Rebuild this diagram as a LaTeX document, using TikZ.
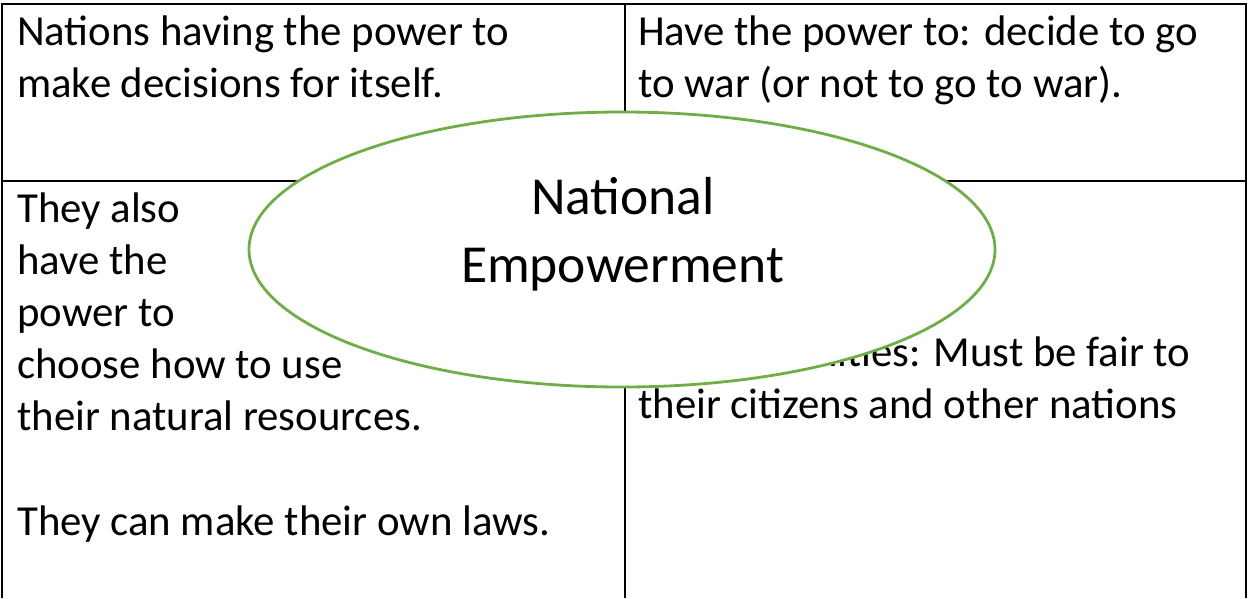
\documentclass[tikz,border=0pt]{standalone}
\usepackage{fontspec}
\setmainfont{Carlito}
\usetikzlibrary{shapes.geometric}
\definecolor{ellgreen}{HTML}{70AD47}
\begin{document}
\begin{tikzpicture}[x=1pt,y=-1pt,
  cell/.style={anchor=base west,inner sep=0pt,font=\fontsize{42.8}{52}\selectfont},
  title/.style={anchor=base,inner sep=0pt,font=\fontsize{53.5}{68}\selectfont},
  grid/.style={line width=2.2pt,black},
  oval/.style={draw=ellgreen,line width=2.8pt,fill=white,ellipse,inner sep=0pt,minimum width=746pt,minimum height=275pt}]
\useasboundingbox (0,0) rectangle (1249,598);
% frame coordinates
\coordinate (tl) at (2,4);
\coordinate (tr) at (1246,4);
\coordinate (bl) at (2,598);
\coordinate (br) at (1246,598);
\coordinate (mt) at (625,4);
\coordinate (mb) at (625,598);
\coordinate (hl) at (2,181);
\coordinate (hr) at (1246,181);
\draw[grid] (bl) -- (tl) -- (tr) -- (br);
\draw[grid] (mt) -- (mb);
\draw[grid] (hl) -- (hr);
% top-left cell
\node[cell] (a1) at (17,45) {Nations having the power to};
\node[cell] (a2) at (17,97.5) {make decisions for itself.};
% top-right cell
\node[cell] (b1) at (638,45) {Have the power to: decide to go};
\node[cell] (b2) at (638,97.5) {to war (or not to go to war).};
% bottom-left cell
\node[cell] (c1) at (17,222) {They also};
\node[cell] (c2) at (17,274) {have the};
\node[cell] (c3) at (17,326) {power to};
\node[cell] (c4) at (17,378) {choose how to use};
\node[cell] (c5) at (17,430) {their natural resources.};
\node[cell] (c6) at (17,535) {They can make their own laws.};
% bottom-right cell
\node[cell] (d1) at (641,366.5) {Responsibilities: Must be fair to};
\node[cell] (d2) at (638,418.5) {their citizens and other nations};
% central ellipse
\node[oval] (ell) at (622,249.5) {};
\node[title] (t1) at (623,214) {National};
\node[title] (t2) at (622.5,282) {Empowerment};
\end{tikzpicture}
\end{document}
